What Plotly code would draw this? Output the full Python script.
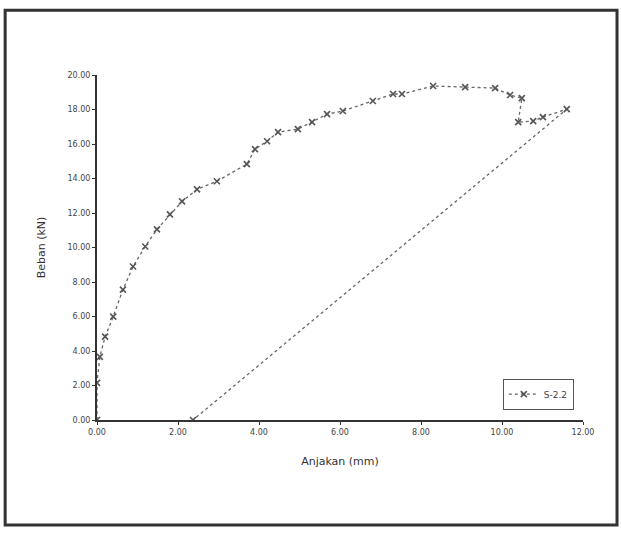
import plotly.graph_objects as go

# Load-displacement data (Anjakan mm, Beban kN)
anjakan = [0.00, 0.00, 0.07, 0.20, 0.40, 0.64, 0.89, 1.19, 1.48, 1.80, 2.10, 2.47, 2.96,
           3.70, 3.90, 4.20, 4.47, 4.96, 5.31, 5.68, 6.07, 6.81, 7.31, 7.53, 8.30, 9.09,
           9.83, 10.20, 10.49, 10.40, 10.77, 11.01, 11.60, 2.37]
beban = [0.00, 2.15, 3.66, 4.83, 5.99, 7.56, 8.90, 10.06, 11.05, 11.92, 12.67, 13.37, 13.84,
         14.83, 15.70, 16.16, 16.69, 16.86, 17.27, 17.73, 17.91, 18.49, 18.90, 18.90, 19.36, 19.30,
         19.24, 18.84, 18.66, 17.27, 17.33, 17.56, 18.02, 0.00]
series_name = "S-2.2"
x_ticks = [0, 2, 4, 6, 8, 10, 12]
y_ticks = [0, 2, 4, 6, 8, 10, 12, 14, 16, 18, 20]

fig = go.Figure()
fig.add_trace(go.Scatter(
    x=anjakan, y=beban, mode="lines+markers", name=series_name,
    line=dict(color="#666666", width=1.3, dash="dot"),
    marker=dict(symbol="x-thin", size=6, color="#555555", line=dict(width=1.6, color="#555555")),
))

fig.update_layout(
    width=621, height=534,
    margin=dict(l=97, r=38, t=75, b=114),
    paper_bgcolor="white", plot_bgcolor="white",
    showlegend=True,
    legend=dict(x=0.835, y=0.075, xanchor="left", yanchor="middle",
                bordercolor="#555555", borderwidth=1, bgcolor="white",
                font=dict(family="DejaVu Sans", size=9, color="#444444"),
                itemwidth=30),
    font=dict(family="DejaVu Sans", color="#444444"),
    shapes=[dict(type="rect", xref="paper", yref="paper",
                 x0=-0.189, x1=1.070, y0=-0.304, y1=1.188,
                 line=dict(color="#333333", width=3))],
)
fig.update_xaxes(
    range=[0, 12], tickvals=x_ticks, ticktext=[f"{v:.2f}" for v in x_ticks],
    showline=True, linecolor="#333333", linewidth=2, showgrid=False, zeroline=False,
    ticks="outside", ticklen=3, tickcolor="#333333",
    tickfont=dict(size=8, color="#444444"),
    title=dict(text="Anjakan (mm)", font=dict(size=11, color="#333333"), standoff=22),
)
fig.update_yaxes(
    range=[0, 20], tickvals=y_ticks, ticktext=[f"{v:.2f}" for v in y_ticks],
    showline=True, linecolor="#333333", linewidth=2, showgrid=False, zeroline=False,
    ticks="outside", ticklen=3, tickcolor="#333333",
    tickfont=dict(size=8, color="#444444"),
    title=dict(text="Beban (kN)", font=dict(size=11, color="#333333"), standoff=20),
)

fig.write_html("out.html")
